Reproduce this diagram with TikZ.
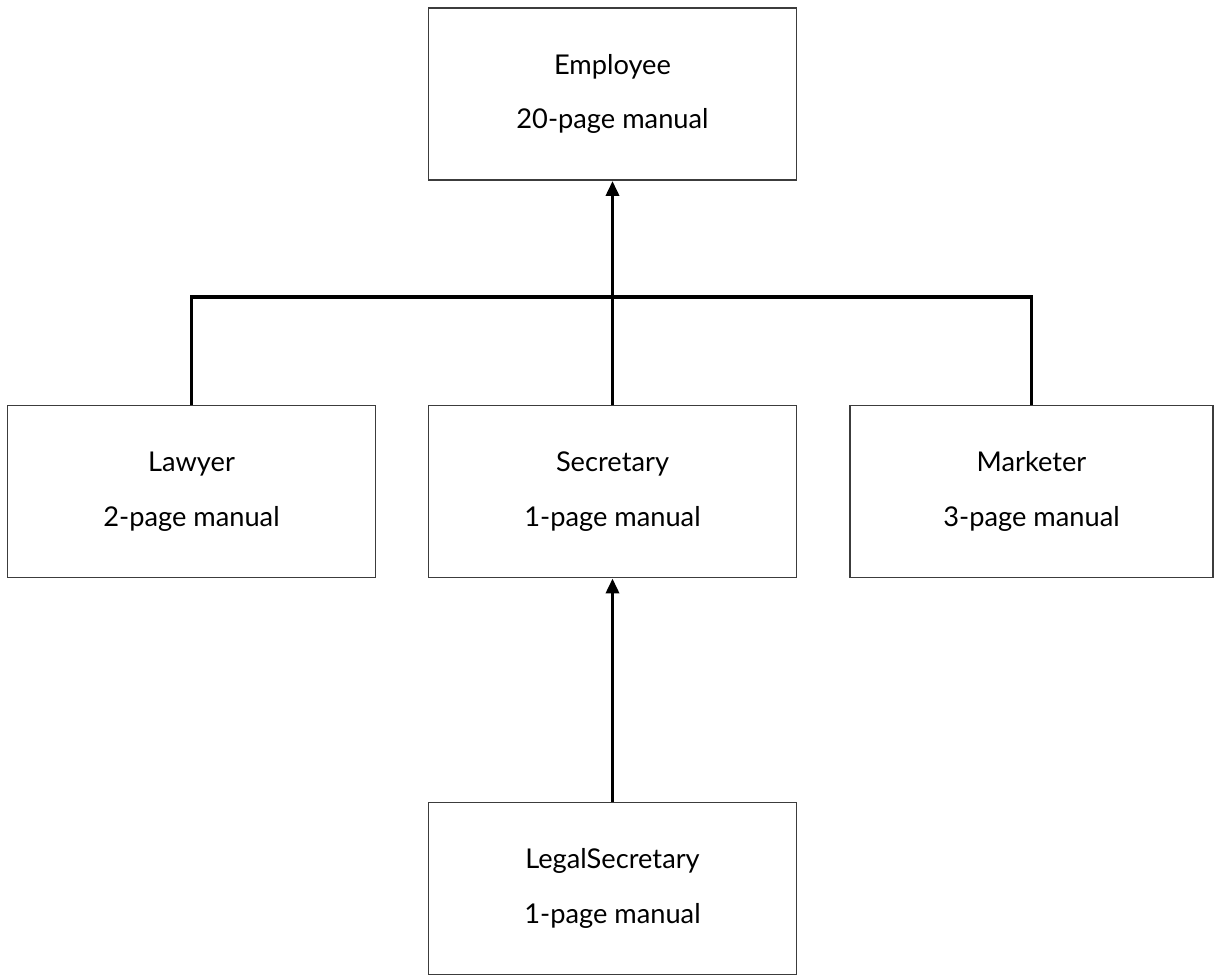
\documentclass[tikz,border=0pt]{standalone}
\usepackage{fontspec}
\setmainfont{Lato}
\usepackage{tikz}
\usetikzlibrary{positioning,arrows.meta,calc}
\definecolor{boxline}{RGB}{60,60,60}

\begin{document}
\begin{tikzpicture}[
  cls/.style={draw=boxline,line width=1.1pt,minimum width=7.36cm,minimum height=3.44cm,
    align=center,font=\fontsize{15.5}{31}\selectfont},
  link/.style={line width=2pt,black},
  tip/.style={-{Triangle[length=0.3cm,width=0.26cm]}}]
\useasboundingbox (0,0) rectangle (24.3,-19.52);
% classes
\node[cls] (employee) at (12.25,-1.88) {Employee\\20-page manual};
\node[cls] (lawyer) at (3.83,-9.83) {Lawyer\\2-page manual};
\node[cls] (secretary) at (12.25,-9.83) {Secretary\\1-page manual};
\node[cls,minimum width=7.26cm] (marketer) at (20.63,-9.83) {Marketer\\3-page manual};
\node[cls] (legal) at (12.25,-17.77) {LegalSecretary\\1-page manual};
% inheritance
\coordinate (bus) at (12.25,-5.94);
\draw[link] (lawyer.north) |- (bus) -| (marketer.north);
\draw[link,tip] (secretary.north) -- (employee.south);
\draw[link,tip] (legal.north) -- (secretary.south);
\end{tikzpicture}
\end{document}
